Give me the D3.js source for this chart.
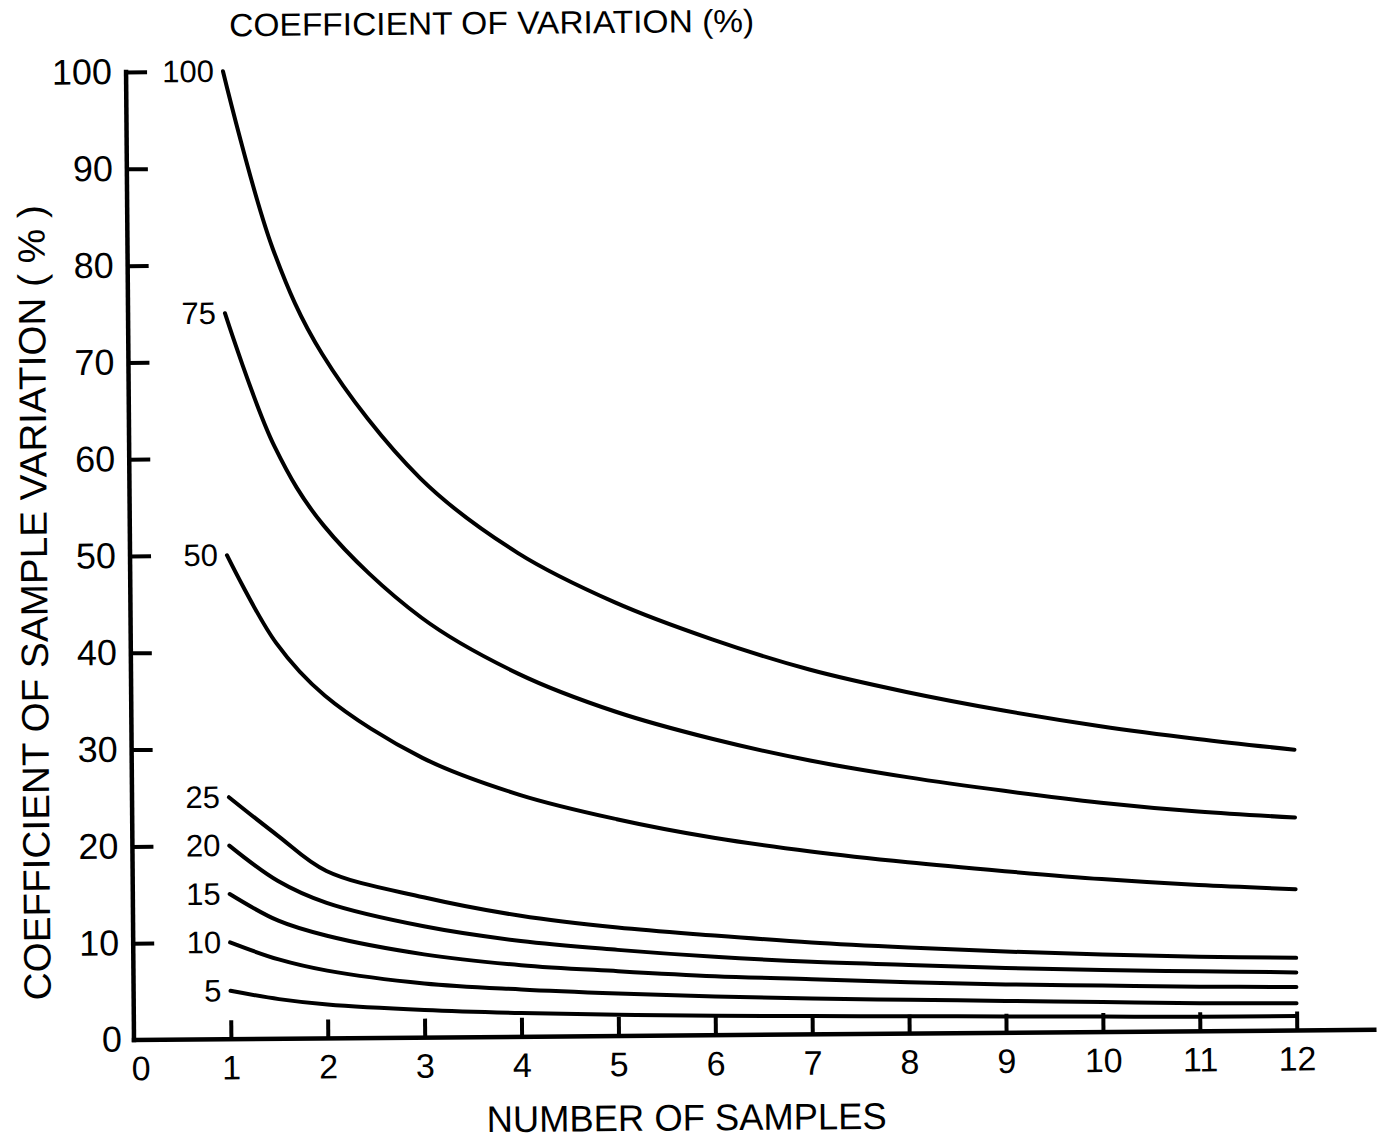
<!DOCTYPE html>
<html>
<head>
<meta charset="utf-8">
<script src="https://cdn.jsdelivr.net/npm/d3@7"></script>
<style>
  html, body { margin: 0; padding: 0; background: #fff; }
  svg { display: block; }
  text { font-family: "Liberation Sans", Arial, sans-serif; fill: #000; }
</style>
</head>
<body>
<svg id="chart" width="1380" height="1141"></svg>
<script>
// Number of samples at which each curve is read
const samples = [1, 1.5, 2, 3, 4, 5, 6, 7, 8, 9, 10, 11, 12];

// Coefficient of sample variation (%) for each population coefficient of variation
const cv100 = [100, 81.6, 70.7, 57.8, 50, 44.8, 40.9, 37.7, 35.3, 33.3, 31.6, 30.2, 29];
const cv75  = [75, 61.2, 53, 43.4, 37.5, 33.5, 30.6, 28.3, 26.5, 25, 23.7, 22.7, 22];
const cv50  = [50, 40.9, 35.4, 28.9, 25, 22.4, 20.4, 18.9, 17.7, 16.7, 15.8, 15.1, 14.6];
const cv25  = [25, 21, 17.3, 14.5, 12.5, 11.2, 10.3, 9.5, 8.9, 8.4, 8, 7.7, 7.5];
const cv20  = [20, 16.3, 14, 11.5, 9.9, 8.9, 8.1, 7.5, 7.1, 6.7, 6.4, 6.2, 6];
const cv15  = [15, 12.2, 10.6, 8.6, 7.4, 6.7, 6.1, 5.7, 5.3, 5, 4.8, 4.6, 4.5];
const cv10  = [10, 8.2, 7, 5.6, 4.9, 4.4, 4, 3.7, 3.5, 3.3, 3.1, 2.9, 2.8];
const cv5   = [5, 4.1, 3.5, 2.85, 2.45, 2.2, 2, 1.9, 1.8, 1.7, 1.6, 1.5, 1.5];

const curveNames = ["100", "75", "50", "25", "20", "15", "10", "5"];
const curveValues = [cv100, cv75, cv50, cv25, cv20, cv15, cv10, cv5];

// Axis ticks and labels
const xTicks = [1, 2, 3, 4, 5, 6, 7, 8, 9, 10, 11, 12];
const xTickLabels = ["0", "1", "2", "3", "4", "5", "6", "7", "8", "9", "10", "11", "12"];
const yTicks = [10, 20, 30, 40, 50, 60, 70, 80, 90, 100];
const yTickLabels = ["0", "10", "20", "30", "40", "50", "60", "70", "80", "90", "100"];

const topTitle = "COEFFICIENT  OF  VARIATION  (%)";
const xTitle = "NUMBER OF SAMPLES";
const yTitle = "COEFFICIENT OF SAMPLE VARIATION ( % )";

// Layout
const ox = 134, oy = 1040;
const x = d3.scaleLinear().domain([0, 12]).range([ox, ox + 12 * 96.9]);
const y = d3.scaleLinear().domain([0, 100]).range([oy, 72]);
const xAxisEnd = 12.8;
const fontStack = "'Liberation Sans', Arial, sans-serif";

const svg = d3.select("#chart");
// the whole drawing sits slightly turned, as on the printed sheet
const g = svg.append("g").attr("transform", `rotate(-0.47, ${ox}, ${oy})`);

// Axis lines
g.append("line")
  .attr("x1", x(0)).attr("x2", x(xAxisEnd))
  .attr("y1", y(0)).attr("y2", y(0))
  .attr("stroke", "#000").attr("stroke-width", 4.5).attr("stroke-linecap", "square");
g.append("line")
  .attr("x1", x(0)).attr("x2", x(0))
  .attr("y1", y(0)).attr("y2", y(100))
  .attr("stroke", "#000").attr("stroke-width", 4.5).attr("stroke-linecap", "square");

// X axis ticks (pointing up into the plot)
const xAxis = d3.axisBottom(x)
  .tickValues(xTicks)
  .tickSizeInner(-19)
  .tickSizeOuter(0)
  .tickPadding(16)
  .tickFormat(d => xTickLabels[d]);
const gx = g.append("g").attr("transform", `translate(0,${y(0)})`).call(xAxis);
gx.select(".domain").remove();
gx.selectAll(".tick line").attr("stroke", "#000").attr("stroke-width", 4);
gx.selectAll(".tick text")
  .style("font-family", fontStack)
  .attr("font-size", 34);
// label for the origin
gx.append("text")
  .attr("x", x(0) + 7).attr("y", 16).attr("dy", "0.71em")
  .attr("text-anchor", "middle").attr("font-size", 34)
  .style("font-family", fontStack)
  .attr("fill", "#000")
  .text(xTickLabels[0]);

// Y axis ticks (pointing right into the plot)
const yAxis = d3.axisLeft(y)
  .tickValues(yTicks)
  .tickSizeInner(-21)
  .tickSizeOuter(0)
  .tickPadding(14)
  .tickFormat(d => yTickLabels[d / 10]);
const gy = g.append("g").attr("transform", `translate(${x(0)},0)`).call(yAxis);
gy.select(".domain").remove();
gy.selectAll(".tick line").attr("stroke", "#000").attr("stroke-width", 4);
gy.selectAll(".tick text")
  .style("font-family", fontStack)
  .attr("font-size", 36);
gy.append("text")
  .attr("x", -12).attr("y", y(0)).attr("dy", "0.32em")
  .attr("text-anchor", "end").attr("font-size", 36)
  .style("font-family", fontStack)
  .attr("fill", "#000")
  .text(yTickLabels[0]);

// Curves
const line = d3.line()
  .x(d => x(d[0]))
  .y(d => y(d[1]))
  .curve(d3.curveCatmullRom.alpha(0.5));

curveValues.forEach((vals, i) => {
  const pts = samples.map((s, j) => [s, vals[j]]);
  g.append("path")
    .datum(pts)
    .attr("d", line)
    .attr("fill", "none")
    .attr("stroke", "#000")
    .attr("stroke-width", 4)
    .attr("stroke-linecap", "round");
  g.append("text")
    .attr("x", x(samples[0]) - 9)
    .attr("y", y(vals[0]))
    .attr("dy", "0.34em")
    .attr("text-anchor", "end")
    .attr("font-size", 31)
    .text(curveNames[i]);
});

// Titles
g.append("text")
  .attr("x", 500).attr("y", 37)
  .attr("text-anchor", "middle")
  .attr("font-size", 32)
  .attr("textLength", 525)
  .attr("lengthAdjust", "spacingAndGlyphs")
  .text(topTitle);

g.append("text")
  .attr("x", 686).attr("y", 1135)
  .attr("text-anchor", "middle")
  .attr("font-size", 37)
  .attr("textLength", 400)
  .attr("lengthAdjust", "spacingAndGlyphs")
  .text(xTitle);

g.append("text")
  .attr("transform", "translate(51,602) rotate(-90)")
  .attr("text-anchor", "middle")
  .attr("font-size", 38)
  .attr("textLength", 795)
  .attr("lengthAdjust", "spacingAndGlyphs")
  .text(yTitle);
</script>
</body>
</html>
